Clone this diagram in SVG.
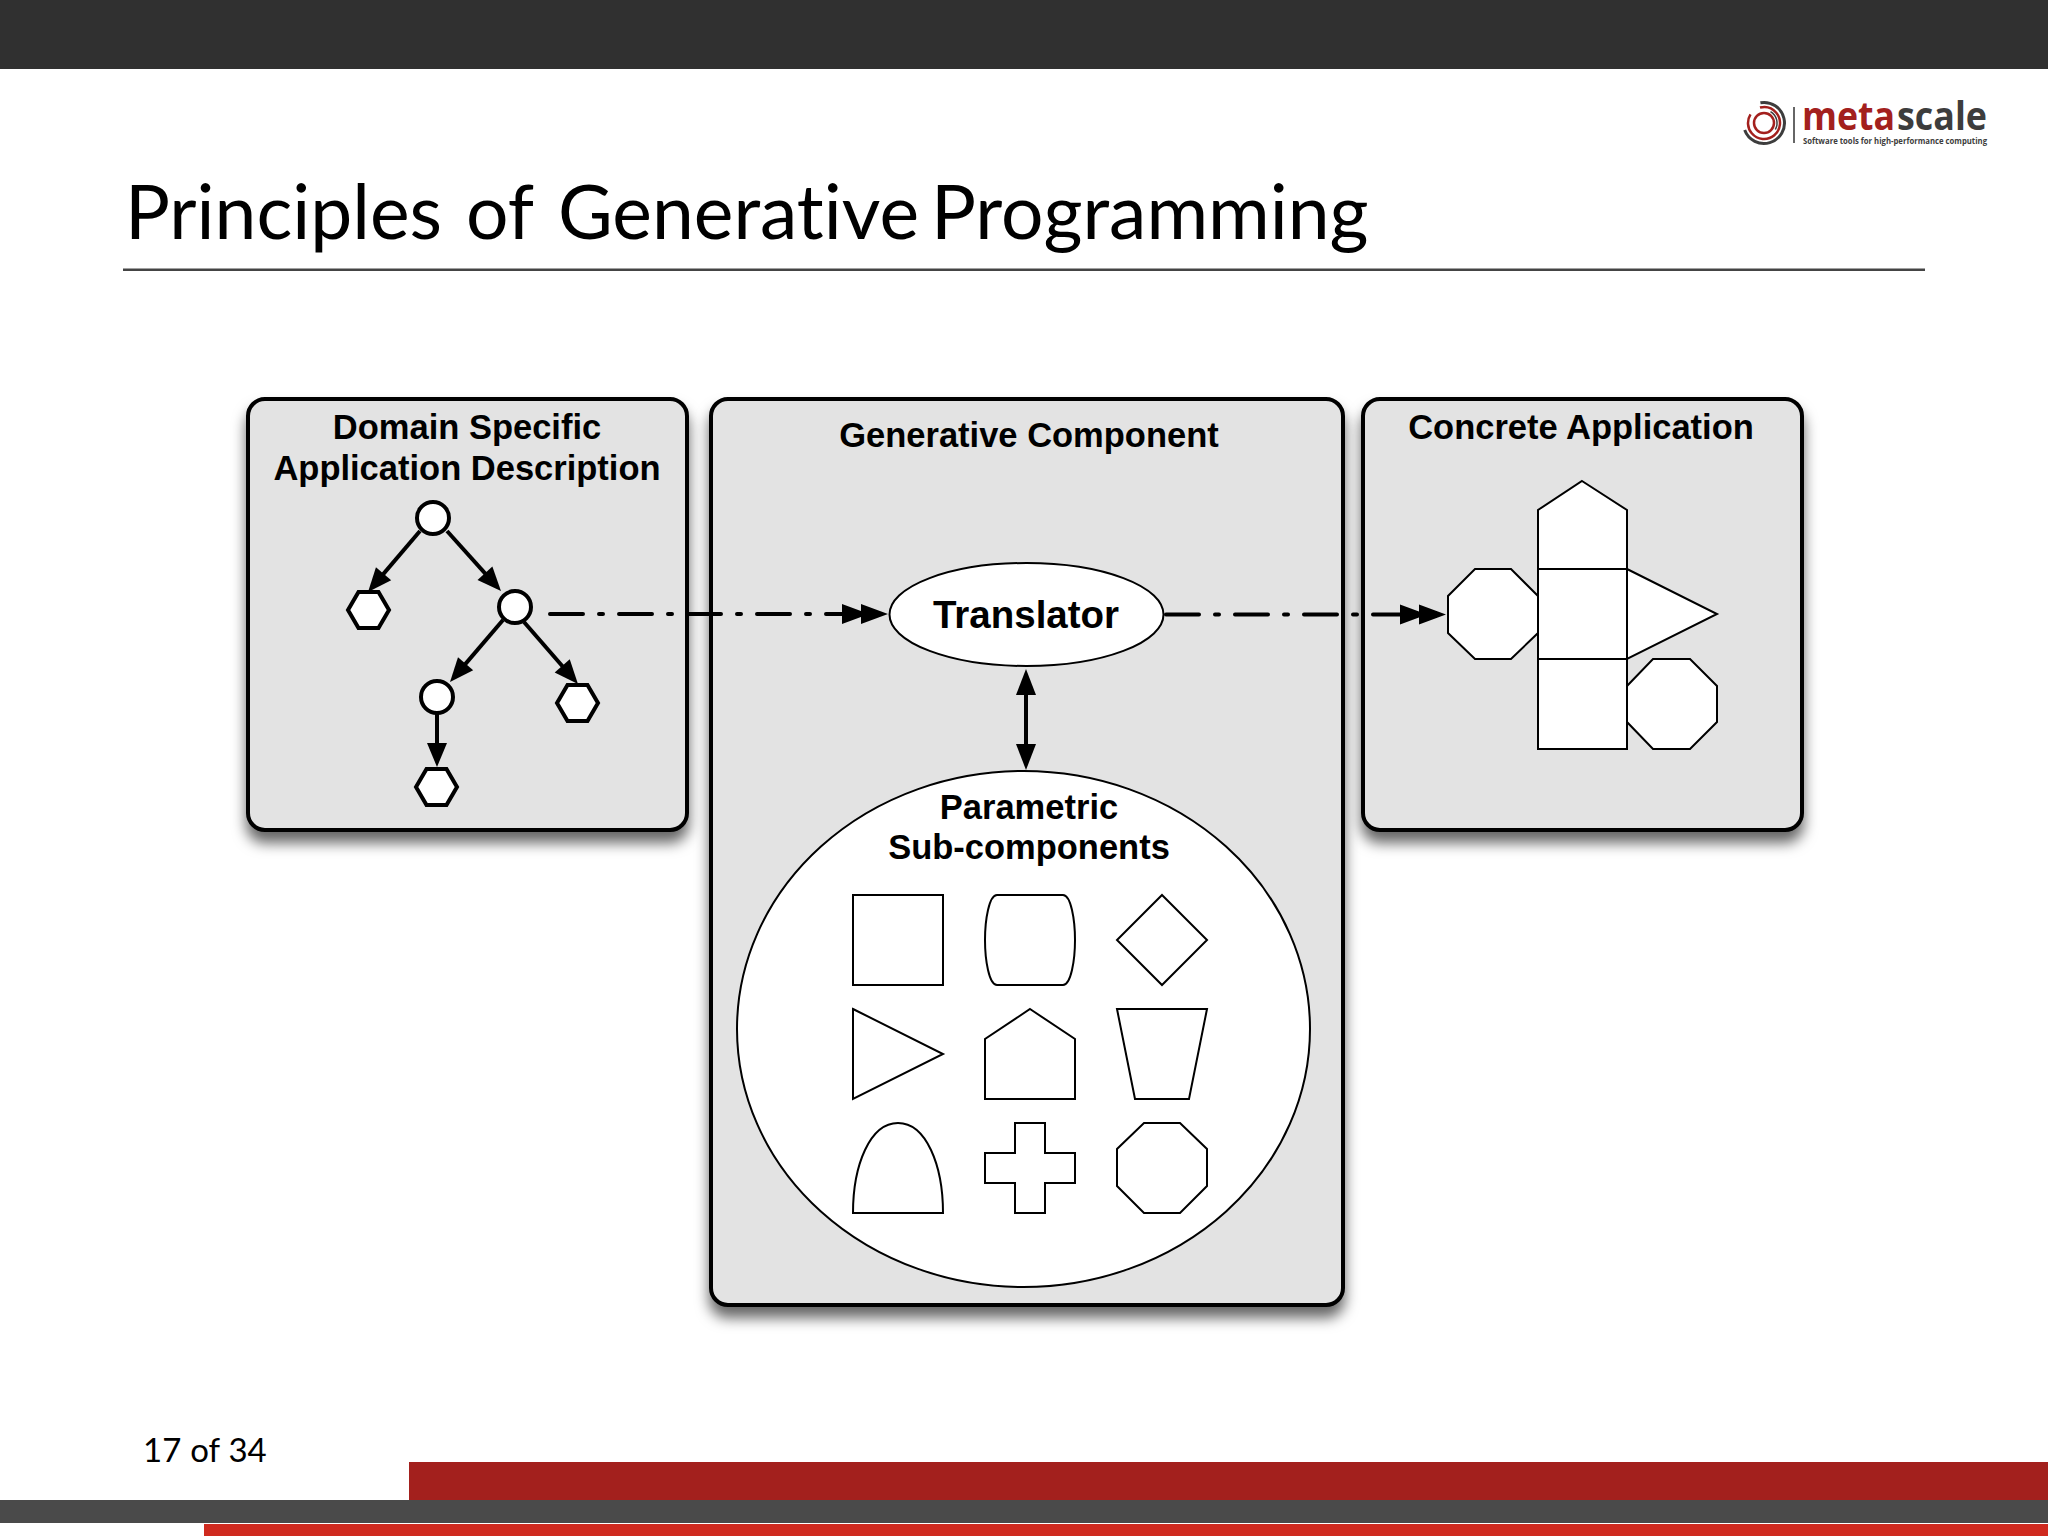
<svg xmlns="http://www.w3.org/2000/svg" width="2048" height="1536" viewBox="0 0 2048 1536">
<style>
.box{fill:#e3e3e3;stroke:#000;stroke-width:4;filter:url(#sh)}
.lb{font-family:"Liberation Sans",Arial,sans-serif;font-weight:700;font-size:34.500px;text-anchor:middle;fill:#000}
.sh{fill:#fff;stroke:#000;stroke-width:2}
.n{fill:#fff;stroke:#000;stroke-width:4}
.a{fill:none;stroke:#000;stroke-width:4}
.d{stroke-dasharray:33 16 4 16;stroke-linecap:round}
.cm{font-family:Lato,"Noto Sans",sans-serif;fill:#000;font-variant-ligatures:none}
.lg{font-family:"Open Sans",sans-serif;font-weight:700}
</style>
<defs>
<filter id="sh" x="-10%" y="-10%" width="120%" height="120%"><feDropShadow dx="0" dy="11" stdDeviation="7" flood-color="#000" flood-opacity="0.6"/></filter>
<marker id="h" markerUnits="userSpaceOnUse" markerWidth="26" markerHeight="22" refX="14" refY="10" orient="auto" overflow="visible"><path d="M0,0L24,10L0,20Z"/></marker>
<marker id="hb" markerUnits="userSpaceOnUse" markerWidth="28" markerHeight="22" refX="16" refY="10" orient="auto-start-reverse" overflow="visible"><path d="M0,0L26,10L0,20Z"/></marker>
<marker id="hh" markerUnits="userSpaceOnUse" markerWidth="48" markerHeight="22" refX="36" refY="10" orient="auto" overflow="visible"><path d="M0,0L27,10L0,20ZM19,0L46,10L19,20Z"/></marker>
</defs>
<rect id="top-bar" width="2048" height="69" fill="#303030"/>
<g id="logo">
<path d="M1760.400,102.800A20.500,20.500 0 1 1 1744.700,130" fill="none" stroke="#3d3d3d" stroke-width="3"/>
<circle cx="1764" cy="123" r="16" fill="none" stroke="#a3201d" stroke-width="2.500" stroke-dasharray="70 12" transform="rotate(-40 1764 123)"/>
<path d="M1770.500,111.700A13,13 0 0 1 1775.300,129.500" fill="none" stroke="#3d3d3d" stroke-width="1.500"/>
<circle cx="1764" cy="123" r="10" fill="none" stroke="#a3201d" stroke-width="2.500"/>
<path d="M1794,107V143" stroke="#333" stroke-width="1.500"/>
<text class="lg" x="1802" y="130" font-size="40" fill="#a3201d" textLength="93" lengthAdjust="spacingAndGlyphs">meta</text>
<text class="lg" x="1897" y="130" font-size="40" fill="#3d3d3d" font-weight="600" textLength="90" lengthAdjust="spacingAndGlyphs">scale</text>
<text class="lg" x="1803" y="144" font-size="8.500" fill="#3d3d3d" textLength="184" lengthAdjust="spacingAndGlyphs">Software tools for high-performance computing</text>
</g>
<text id="title" class="cm" y="239" font-size="75"><tspan x="125">Principles</tspan> <tspan x="466">of</tspan> <tspan x="558">Generative</tspan> <tspan x="931">Programming</tspan></text>
<rect id="title-rule" x="123" y="268.500" width="1802" height="2.500" fill="#444"/>

<g id="domain-box">
<rect class="box" x="248" y="399" width="439" height="431" rx="17"/>
<text class="lb" x="467" y="439">Domain Specific</text>
<text class="lb" x="467" y="480">Application Description</text>
</g>
<g id="generative-box">
<rect class="box" x="711" y="399" width="632" height="906" rx="17"/>
<text class="lb" x="1029" y="447">Generative Component</text>
</g>
<g id="concrete-box">
<rect class="box" x="1363" y="399" width="439" height="431" rx="17"/>
<text class="lb" x="1581" y="439">Concrete Application</text>
</g>

<g id="tree-root"><circle class="n" cx="433" cy="518" r="16"/></g>
<g id="tree-n2"><circle class="n" cx="515" cy="607" r="16"/></g>
<g id="tree-n3"><circle class="n" cx="437" cy="697" r="16"/></g>
<g id="tree-h1"><polygon class="n" points="348,610 358.500,592 378.500,592 389,610 378.500,628 358.500,628"/></g>
<g id="tree-h2"><polygon class="n" points="557,703 567.500,685 587.500,685 598,703 587.500,721 567.500,721"/></g>
<g id="tree-h3"><polygon class="n" points="416,787 426.500,769 446.500,769 457,787 446.500,805 426.500,805"/></g>

<g id="translator">
<ellipse cx="1026.500" cy="614.500" rx="137" ry="51.500" fill="#fff" stroke="#000" stroke-width="2"/>
<text class="lb" x="1026" y="628" style="font-size:38.500px">Translator</text>
</g>
<g id="subcomponents">
<ellipse cx="1023.500" cy="1029" rx="286.500" ry="258" fill="#fff" stroke="#000" stroke-width="2"/>
<text class="lb" x="1029" y="819">Parametric</text>
<text class="lb" x="1029" y="859">Sub-components</text>
<rect class="sh" x="853" y="895" width="90" height="90"/>
<path class="sh" d="M997,895H1063C1071,895 1075,920 1075,940C1075,960 1071,985 1063,985H997C989,985 985,960 985,940C985,920 989,895 997,895Z"/>
<polygon class="sh" points="1162,895 1207,940 1162,985 1117,940"/>
<polygon class="sh" points="853,1009 943,1054 853,1099"/>
<polygon class="sh" points="1030,1009 1075,1039 1075,1099 985,1099 985,1039"/>
<polygon class="sh" points="1117,1009 1207,1009 1189,1099 1135,1099"/>
<path class="sh" d="M853,1213C853,1165 870,1123 898,1123C926,1123 943,1165 943,1213Z"/>
<polygon class="sh" points="1015,1123 1045,1123 1045,1153 1075,1153 1075,1183 1045,1183 1045,1213 1015,1213 1015,1183 985,1183 985,1153 1015,1153"/>
<polygon class="sh" points="1144,1123 1180,1123 1207,1149 1207,1186 1180,1213 1144,1213 1117,1186 1117,1149"/>
</g>

<g id="application">
<polygon class="sh" points="1475,569 1511,569 1538,596 1538,633 1511,659 1475,659 1448,633 1448,596"/>
<polygon class="sh" points="1653,659 1690,659 1717,686 1717,722 1690,749 1653,749 1627,722 1627,686"/>
<polygon class="sh" points="1582,481 1627,510 1627,569 1538,569 1538,510"/>
<rect class="sh" x="1538" y="569" width="89" height="90"/>
<rect class="sh" x="1538" y="659" width="89" height="90"/>
<polygon class="sh" points="1627,569 1717,614 1627,659"/>
</g>

<g id="connectors">
<line class="a" x1="420" y1="531" x2="374.500" y2="584.400" marker-end="url(#h)"/>
<line class="a" x1="447" y1="531" x2="494.300" y2="583.600" marker-end="url(#h)"/>
<line class="a" x1="503" y1="620" x2="456.500" y2="674.400" marker-end="url(#h)"/>
<line class="a" x1="524" y1="622" x2="571.400" y2="676.500" marker-end="url(#h)"/>
<line class="a" x1="437" y1="713" x2="437" y2="757" marker-end="url(#h)"/>
<path class="a d" d="M550,614H878" marker-end="url(#hh)"/>
<path class="a d" d="M1166,614.500H1436" marker-end="url(#hh)"/>
<line class="a" x1="1026" y1="679" x2="1026" y2="760" marker-start="url(#hb)" marker-end="url(#hb)"/>
</g>

<text id="page" class="cm" x="143" y="1462" font-size="33" word-spacing="0.500">17 of 34</text>
<g id="footer">
<rect x="409" y="1462" width="1639" height="38" fill="#a3201d"/>
<rect y="1500" width="2048" height="23" fill="#4a4a4a"/>
<rect x="204" y="1524" width="1844" height="12" fill="#cf2a1f"/>
</g>
</svg>
